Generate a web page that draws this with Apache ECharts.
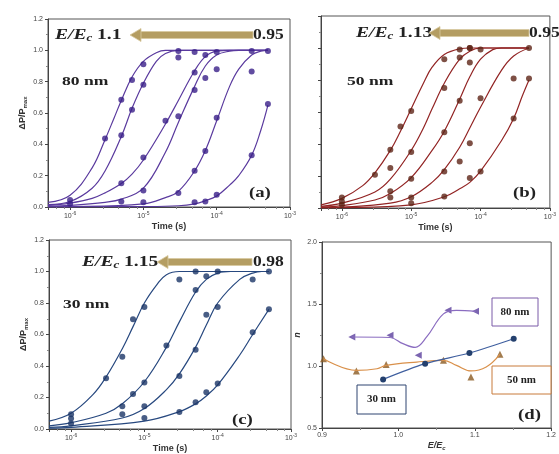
<!DOCTYPE html>
<html><head><meta charset="utf-8">
<script src="https://cdn.jsdelivr.net/npm/echarts@6/dist/echarts.min.js"></script>
<style>html,body{margin:0;padding:0;background:#fff}#c{width:559px;height:454px}</style>
</head><body><div id="c"></div>
<script>
// ---------- (a) 80 nm : measured points and fitted curves [time (s), dP/Pmax]
const aPts1 = [[1e-6,0.045],[3e-6,0.437],[5e-6,0.684],[7e-6,0.81],[1e-5,0.911],[3e-5,0.995]];
const aPts2 = [[1e-6,0.02],[5e-6,0.458],[7e-6,0.62],[1e-5,0.78],[3e-5,0.955],[5e-5,0.99]];
const aPts3 = [[5e-6,0.152],[1e-5,0.316],[2e-5,0.55],[5e-5,0.858],[7e-5,0.97],[1e-4,0.99]];
const aPts4 = [[5e-6,0.035],[1e-5,0.105],[3e-5,0.58],[5e-5,0.747],[7e-5,0.823],[1e-4,0.88],[3e-4,0.995]];
const aPts5 = [[1e-5,0.03],[3e-5,0.089],[5e-5,0.232],[7e-5,0.358],[1e-4,0.57],[3e-4,0.865],[5e-4,0.995]];
const aPts6 = [[5e-5,0.03],[7e-5,0.035],[1e-4,0.078],[3e-4,0.331],[5e-4,0.658]];
const aFit1 = [[5e-7,0.03],[1e-6,0.075],[2e-6,0.25],[3e-6,0.43],[4e-6,0.57],[5e-6,0.68],[7e-6,0.83],[1e-5,0.93],[1.5e-5,0.985],[2e-5,1.0],[5e-5,1.0],[1e-4,1.0],[5e-4,1.0]];
const aFit2 = [[5e-7,0.015],[1e-6,0.035],[2e-6,0.12],[3e-6,0.23],[5e-6,0.45],[7e-6,0.63],[1e-5,0.79],[1.5e-5,0.93],[2e-5,0.98],[3e-5,1.0],[1e-4,1.0],[5e-4,1.0]];
const aFit3 = [[5e-7,0.01],[1e-6,0.025],[2e-6,0.055],[3e-6,0.09],[5e-6,0.15],[7e-6,0.21],[1e-5,0.3],[2e-5,0.53],[3e-5,0.68],[5e-5,0.87],[7e-5,0.96],[1e-4,0.995],[1.5e-4,1.0],[5e-4,1.0]];
const aFit4 = [[5e-7,0.005],[1e-6,0.01],[3e-6,0.03],[5e-6,0.05],[1e-5,0.12],[2e-5,0.35],[3e-5,0.54],[5e-5,0.77],[7e-5,0.9],[1e-4,0.97],[1.5e-4,0.995],[2e-4,1.0],[5e-4,1.0]];
const aFit5 = [[5e-7,0.002],[1e-6,0.003],[1e-5,0.02],[2e-5,0.06],[3e-5,0.1],[5e-5,0.23],[7e-5,0.36],[1e-4,0.55],[1.5e-4,0.77],[2e-4,0.88],[3e-4,0.97],[4e-4,0.995],[5e-4,1.0]];
const aFit6 = [[5e-7,0.001],[1e-5,0.003],[3e-5,0.008],[5e-5,0.02],[7e-5,0.04],[1e-4,0.07],[1.5e-4,0.14],[2e-4,0.2],[3e-4,0.33],[4e-4,0.49],[5e-4,0.65]];

// ---------- (b) 50 nm
const bPts1 = [[1e-6,0.066],[3e-6,0.208],[5e-6,0.364],[7e-6,0.51],[1e-5,0.607],[3e-5,0.93],[5e-5,0.99],[7e-5,1.0]];
const bPts2 = [[1e-6,0.04],[5e-6,0.25],[1e-5,0.35],[3e-5,0.75],[5e-5,0.94],[7e-5,1.0]];
const bPts3 = [[1e-6,0.02],[5e-6,0.104],[1e-5,0.183],[3e-5,0.474],[5e-5,0.67],[7e-5,0.91],[1e-4,0.99]];
const bPts4 = [[5e-6,0.066],[1e-5,0.066],[3e-5,0.228],[5e-5,0.29],[7e-5,0.405],[1e-4,0.686],[3e-4,0.81],[5e-4,1.0]];
const bPts5 = [[1e-5,0.03],[3e-5,0.072],[7e-5,0.187],[1e-4,0.228],[3e-4,0.56],[5e-4,0.81]];
const bFit1 = [[5e-7,0.02],[1e-6,0.06],[2e-6,0.14],[3e-6,0.22],[5e-6,0.36],[7e-6,0.48],[1e-5,0.62],[1.5e-5,0.78],[2e-5,0.88],[3e-5,0.96],[5e-5,0.995],[7e-5,1.0],[5e-4,1.0]];
const bFit2 = [[5e-7,0.01],[1e-6,0.03],[3e-6,0.1],[5e-6,0.18],[1e-5,0.36],[1.5e-5,0.5],[2e-5,0.62],[3e-5,0.78],[5e-5,0.93],[7e-5,0.98],[1e-4,1.0],[5e-4,1.0]];
const bFit3 = [[5e-7,0.005],[1e-6,0.015],[3e-6,0.05],[5e-6,0.09],[1e-5,0.19],[2e-5,0.36],[3e-5,0.48],[5e-5,0.68],[7e-5,0.82],[1e-4,0.93],[1.5e-4,0.99],[2e-4,1.0],[5e-4,1.0]];
const bFit4 = [[5e-7,0.002],[1e-6,0.005],[5e-6,0.03],[1e-5,0.07],[2e-5,0.16],[3e-5,0.24],[5e-5,0.38],[7e-5,0.5],[1e-4,0.63],[2e-4,0.86],[3e-4,0.95],[5e-4,1.0]];
const bFit5 = [[5e-7,0.001],[1e-6,0.002],[1e-5,0.02],[3e-5,0.07],[5e-5,0.12],[7e-5,0.16],[1e-4,0.23],[2e-4,0.42],[3e-4,0.56],[4e-4,0.7],[5e-4,0.8]];

// ---------- (c) 30 nm
const cPts1 = [[1e-6,0.094],[3e-6,0.322],[5e-6,0.458],[7e-6,0.697],[1e-5,0.774],[3e-5,0.95],[5e-5,1.0]];
const cPts2 = [[1e-6,0.067],[5e-6,0.144],[7e-6,0.222],[1e-5,0.295],[2e-5,0.53],[5e-5,0.883],[7e-5,0.97],[1e-4,1.0]];
const cPts3 = [[1e-6,0.035],[5e-6,0.094],[1e-5,0.144],[3e-5,0.337],[5e-5,0.503],[7e-5,0.726],[1e-4,0.774],[3e-4,0.95],[5e-4,1.0]];
const cPts4 = [[1e-5,0.07],[3e-5,0.108],[5e-5,0.17],[7e-5,0.233],[1e-4,0.289],[3e-4,0.614],[5e-4,0.76]];
const cFit1 = [[5e-7,0.05],[1e-6,0.1],[2e-6,0.22],[3e-6,0.33],[5e-6,0.51],[7e-6,0.65],[1e-5,0.8],[1.5e-5,0.92],[2e-5,0.98],[3e-5,1.0],[1e-4,1.0],[5e-4,1.0]];
const cFit2 = [[5e-7,0.02],[1e-6,0.04],[3e-6,0.1],[5e-6,0.16],[1e-5,0.3],[2e-5,0.52],[3e-5,0.68],[5e-5,0.87],[7e-5,0.95],[1e-4,0.99],[1.5e-4,1.0],[5e-4,1.0]];
const cFit3 = [[5e-7,0.01],[1e-6,0.02],[5e-6,0.07],[1e-5,0.13],[2e-5,0.25],[3e-5,0.35],[5e-5,0.52],[7e-5,0.66],[1e-4,0.8],[2e-4,0.95],[3e-4,0.99],[4e-4,1.0],[5e-4,1.0]];
const cFit4 = [[5e-7,0.005],[1e-6,0.01],[1e-5,0.05],[3e-5,0.11],[5e-5,0.16],[7e-5,0.21],[1e-4,0.28],[2e-4,0.47],[3e-4,0.6],[5e-4,0.76]];

// ---------- (d) exponent n vs E/Ec
const d80Pts = [[0.939,1.234],[0.989,1.247],[1.026,1.086],[1.065,1.449],[1.101,1.441]];
const d80Line = [[0.939,1.234],[0.989,1.23],[1.006,1.18],[1.022,1.15],[1.037,1.234],[1.059,1.42],[1.076,1.449],[1.101,1.441]];
const d50Pts = [[0.902,1.059],[0.945,0.96],[0.984,1.013],[1.059,1.046],[1.095,0.911],[1.133,1.094]];
const d50Line = [[0.902,1.059],[0.945,0.965],[0.972,0.978],[0.984,1.005],[1.024,1.032],[1.059,1.046],[1.076,1.005],[1.095,0.96],[1.115,0.992],[1.133,1.094]];
const d30Pts = [[0.98,0.892],[1.035,1.019],[1.093,1.105],[1.151,1.22]];

const yTicksA = [0, 1.2, 0.2];
const yTicksD = [0.5, 2.0, 0.5];
const xTicksD = [0.9, 1.2, 0.1];

const chart = echarts.init(document.getElementById('c'));
const SANS = 'Liberation Sans';
const SERIF = 'Liberation Serif';
const AX = '#444';

function logLabel(v){
  const l = Math.log10(v), e = Math.round(l);
  if (Math.abs(l - e) > 1e-6) return '';
  return '{b|10}{s|' + e + '}';
}
function xLog(gi){
  return {type:'log', logBase:10, gridIndex:gi, min:5e-7, max:1e-3,
    name:'Time (s)', nameLocation:'middle', nameGap:15,
    nameTextStyle:{fontSize:9, fontWeight:'bold', fontFamily:SANS, color:'#333'},
    axisLine:{lineStyle:{color:AX}}, axisTick:{length:3, lineStyle:{color:AX}},
    minorTick:{show:true, splitNumber:5, length:2, lineStyle:{color:'#888'}},
    splitLine:{show:false},
    axisLabel:{formatter:logLabel, margin:4,
      rich:{b:{fontSize:7, color:'#444', fontFamily:SANS}, s:{fontSize:5, color:'#444', fontFamily:SANS, verticalAlign:'top', padding:[0,0,5,0]}}}};
}
function yVal(gi, showLabel){
  return {type:'value', gridIndex:gi, min:yTicksA[0], max:yTicksA[1], interval:yTicksA[2],
    name: showLabel ? '{a|ΔP/P}{s|max}' : '', nameLocation:'middle', nameGap:20, nameRotate:90,
    nameTextStyle:{rich:{a:{fontSize:9, fontWeight:'bold', fontFamily:SANS, color:'#333'}, s:{fontSize:6, fontWeight:'bold', fontFamily:SANS, color:'#333', verticalAlign:'bottom', padding:[5,0,0,0]}}},
    axisLine:{show:true, lineStyle:{color:AX}}, axisTick:{show:true, length:3, lineStyle:{color:AX}},
    minorTick:{show:true, splitNumber:2, length:2, lineStyle:{color:'#888'}},
    splitLine:{show:false},
    axisLabel:{show:showLabel, fontSize:7, color:'#444', fontFamily:SANS, margin:5, formatter:v=>v.toFixed(1)}};
}

const series = [];
function addPanel(gi, fits, pts, lineColor, dotColor){
  fits.forEach(f => series.push({type:'line', xAxisIndex:gi, yAxisIndex:gi, data:f, smooth:0.4,
    showSymbol:false, symbol:'none', lineStyle:{color:lineColor, width:1.2}, z:2, silent:true}));
  pts.forEach(p => series.push({type:'scatter', xAxisIndex:gi, yAxisIndex:gi, data:p, symbol:'circle',
    symbolSize:6, itemStyle:{color:dotColor}, z:3, silent:true}));
}
addPanel(0, [aFit1,aFit2,aFit3,aFit4,aFit5,aFit6], [aPts1,aPts2,aPts3,aPts4,aPts5,aPts6], '#5a3a9e', '#3a1f88');
addPanel(1, [bFit1,bFit2,bFit3,bFit4,bFit5], [bPts1,bPts2,bPts3,bPts4,bPts5], '#922424', '#5e2416');
addPanel(2, [cFit1,cFit2,cFit3,cFit4], [cPts1,cPts2,cPts3,cPts4], '#27487f', '#1a3466');

series.push({type:'line', xAxisIndex:3, yAxisIndex:3, data:d80Line, smooth:0.4, symbol:'none', lineStyle:{color:'#8a6cc0', width:1.2}, silent:true});
series.push({type:'scatter', xAxisIndex:3, yAxisIndex:3, data:d80Pts, symbol:'triangle', symbolRotate:90, symbolSize:7, itemStyle:{color:'#5a3e9c'}, silent:true});
series.push({type:'line', xAxisIndex:3, yAxisIndex:3, data:d50Line, smooth:0.4, symbol:'none', lineStyle:{color:'#d9904a', width:1.2}, silent:true});
series.push({type:'scatter', xAxisIndex:3, yAxisIndex:3, data:d50Pts, symbol:'triangle', symbolSize:7, itemStyle:{color:'#8a5a22'}, silent:true});
series.push({type:'line', xAxisIndex:3, yAxisIndex:3, data:d30Pts, smooth:0.3, symbol:'circle', symbolSize:6, itemStyle:{color:'#24406e'}, lineStyle:{color:'#3f5f9f', width:1.2}, silent:true});

function gridBox(l,t,w,h){ return {left:l, top:t, width:w, height:h, show:true, borderColor:'#555', borderWidth:1, backgroundColor:'rgba(0,0,0,0)'}; }

function label(x, y, txt, size, sx){
  return {type:'text', x:x, y:y, scaleX:sx||1.3, style:{text:txt, font:'bold '+size+'px "'+SERIF+'"', fill:'#222', verticalAlign:'middle', align:'left'}};
}
function eLabel(x, y, val){
  return {type:'text', x:x, y:y, scaleX:1.3, style:{text:'{i|E/E}{c|c}{n| '+val+'}', verticalAlign:'middle', align:'left',
    rich:{i:{font:'italic bold 15px "'+SERIF+'"', fill:'#222'}, c:{font:'italic bold 10px "'+SERIF+'"', fill:'#222', verticalAlign:'bottom', padding:[6,0,0,0]}, n:{font:'bold 15px "'+SERIF+'"', fill:'#222'}}}};
}
function arrow(x0, x1, y){
  return [
    {type:'rect', shape:{x:x0+9, y:y-3.5, width:x1-x0-9, height:7}, style:{fill:'#b49d62', stroke:'#d8c9a0', lineWidth:0.8}},
    {type:'polygon', shape:{points:[[x0,y],[x0+11,y-6.5],[x0+11,y+6.5]]}, style:{fill:'#b49d62', stroke:'#d8c9a0', lineWidth:0.8}}
  ];
}
function box(x, y, w, h, color, txt){
  return [
    {type:'rect', shape:{x:x, y:y, width:w, height:h}, style:{fill:'#fff', stroke:color, lineWidth:1}, z:10},
    {type:'text', x:x+w/2, y:y+h/2, z:11, style:{text:txt, font:'bold 11px "'+SERIF+'"', fill:'#222', align:'center', verticalAlign:'middle'}}
  ];
}

const graphics = [].concat(
  [eLabel(55, 35, '1.1'), label(253, 35, '0.95', 14, 1.25)], arrow(130, 253, 35),
  [label(62, 82, '80 nm', 13, 1.35), label(249, 193, '(a)', 15, 1.25)],
  [eLabel(356, 33, '1.13'), label(529, 33, '0.95', 14, 1.25)], arrow(429, 529, 33),
  [label(347, 82, '50 nm', 13, 1.35), label(513, 193, '(b)', 15, 1.25)],
  [eLabel(82, 262, '1.15'), label(253, 262, '0.98', 14, 1.25)], arrow(157, 252, 262),
  [label(63, 305, '30 nm', 13, 1.35), label(232, 420, '(c)', 15, 1.25)],
  box(492, 298, 46, 28, '#7a5aa8', '80 nm'),
  box(492, 366, 59, 28, '#c87a3a', '50 nm'),
  box(357, 385, 49, 29, '#2f4470', '30 nm'),
  [label(518, 415, '(d)', 15, 1.25)]
);

chart.setOption({
  animation:false,
  backgroundColor:'#fff',
  grid:[gridBox(48,19,242,188), gridBox(321,16,240,192), gridBox(49,240,242,193), gridBox(322,242,231,186)],
  xAxis:[xLog(0), xLog(1), xLog(2),
    {type:'value', gridIndex:3, min:xTicksD[0], max:xTicksD[1], interval:xTicksD[2],
      name:'{i|E/E}{c|c}', nameLocation:'middle', nameGap:13,
      nameTextStyle:{rich:{i:{fontSize:9, fontStyle:'italic', fontWeight:'bold', fontFamily:SANS, color:'#333'}, c:{fontSize:6, fontStyle:'italic', fontWeight:'bold', fontFamily:SANS, color:'#333', verticalAlign:'bottom', padding:[4,0,0,0]}}},
      axisLine:{lineStyle:{color:AX}}, axisTick:{length:3, lineStyle:{color:AX}},
      minorTick:{show:true, splitNumber:2, length:2, lineStyle:{color:'#888'}}, splitLine:{show:false},
      axisLabel:{fontSize:7, color:'#444', fontFamily:SANS, margin:4, formatter:v=>v.toFixed(1)}}],
  yAxis:[yVal(0,true), yVal(1,false), yVal(2,true),
    {type:'value', gridIndex:3, min:yTicksD[0], max:yTicksD[1], interval:yTicksD[2],
      name:'n', nameLocation:'middle', nameGap:20, nameRotate:90,
      nameTextStyle:{fontSize:9, fontStyle:'italic', fontWeight:'bold', fontFamily:SANS, color:'#333'},
      axisLine:{show:true, lineStyle:{color:AX}}, axisTick:{show:true, length:3, lineStyle:{color:AX}},
      minorTick:{show:true, splitNumber:2, length:2, lineStyle:{color:'#888'}}, splitLine:{show:false},
      axisLabel:{fontSize:7, color:'#444', fontFamily:SANS, margin:5, formatter:v=>v.toFixed(1)}}],
  series:series,
  graphic:graphics
});
</script></body></html>
